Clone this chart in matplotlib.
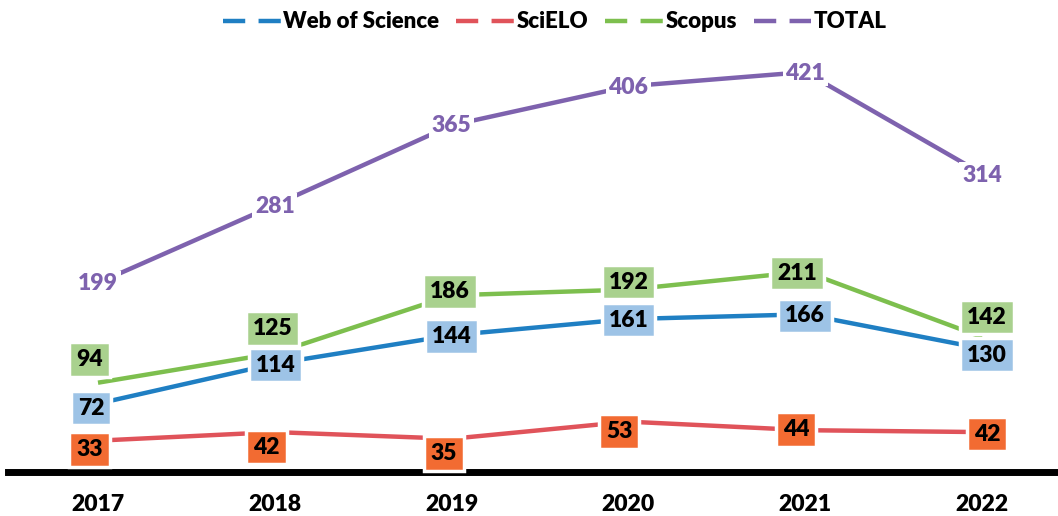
import matplotlib
matplotlib.use("Agg")
import matplotlib.pyplot as plt
from matplotlib.lines import Line2D

years = ["2017", "2018", "2019", "2020", "2021", "2022"]
wos = [72, 114, 144, 161, 166, 130]
scielo = [33, 42, 35, 53, 44, 42]
scopus = [94, 125, 186, 192, 211, 142]
total = [199, 281, 365, 406, 421, 314]

names = ["Web of Science", "SciELO", "Scopus", "TOTAL"]
line_colors = ["#1F7FC3", "#E0535A", "#7DBF4E", "#7E62AE"]
box_colors = ["#9DC3E6", "#F26B32", "#A9D18E", "white"]
text_colors = ["black", "black", "black", "#7E62AE"]

# label offsets in pixels (dx right, dy down) relative to the point
off_wos = [(-7, 4.5), (0.7, 1.3), (0, 1.3), (0, 1), (0, 1.7), (5, 6.5)]
off_scielo = [(-8.5, 8.5), (-8.3, 15), (-8, 15), (-9, 9.5), (-9, -1), (5, 2)]
off_scopus = [(-8.5, -23), (-2, -25), (-1.5, -4), (0, -7.5), (-8, 1.5), (5, -20)]
off_total = [(0, 1), (0, 1), (0, 0), (0, 1), (0, 1), (0, 2)]

plt.rcParams['font.family'] = ['Lato', 'DejaVu Sans']
WEIGHT = 'heavy'

W, H = 1058, 516
fig = plt.figure(figsize=(W / 100, H / 100), dpi=100)
zero_px = 472
ymax = 450
scale = 0.95
ax = fig.add_axes([8 / W, (H - zero_px) / H, 1 - 8 / W, ymax * scale / H])
ax.set_xlim(-90 / 176.8, 5 + 76 / 176.8)
ax.set_ylim(0, ymax)

x = list(range(len(years)))
series = [wos, scielo, scopus, total]
offsets = [off_wos, off_scielo, off_scopus, off_total]

for vals, lc in zip(series, line_colors):
    ax.plot(x, vals, color=lc, lw=3.2, solid_capstyle='butt', zorder=2, clip_on=False)

for k, (vals, offs) in enumerate(zip(series, offsets)):
    for i, v in enumerate(vals):
        dx, dy = offs[i]
        if k == 3:
            bbox = dict(boxstyle="square,pad=0.12", fc="white", ec="none")
        else:
            bbox = dict(boxstyle="square,pad=0.3", fc=box_colors[k], ec="white", lw=2.5)
        ax.annotate(str(v), (i, v), xytext=(dx * 0.72, -dy * 0.72), textcoords='offset points',
                    ha='center', va='center', fontsize=16.5, fontweight=WEIGHT,
                    color=text_colors[k], bbox=bbox, zorder=5, annotation_clip=False)

for s in ['left', 'right', 'top']:
    ax.spines[s].set_visible(False)
ax.spines['bottom'].set_linewidth(5)
ax.spines['bottom'].set_color('black')
ax.set_yticks([])
ax.set_xticks(x)
ax.set_xticklabels(years, fontsize=16.5, fontweight=WEIGHT)
ax.tick_params(axis='x', length=0, pad=16)

handles = [Line2D([0], [0], color=c, lw=3.2, dashes=(5, 3)) for c in line_colors]
leg = fig.legend(handles, names, loc='center', bbox_to_anchor=(555 / W, 1 - 22 / H),
                 ncol=4, frameon=False, handlelength=2.6, handletextpad=0.12,
                 columnspacing=0.75, prop={'weight': WEIGHT, 'size': 16})

fig.savefig("out.png", dpi=100)
